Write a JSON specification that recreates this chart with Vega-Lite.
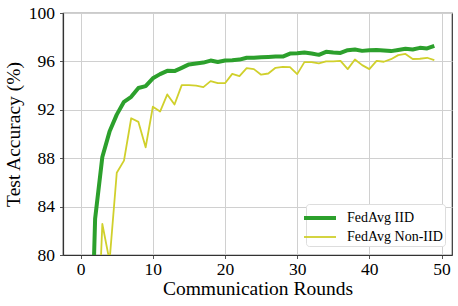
{
  "$schema": "https://vega.github.io/schema/vega-lite/v6.json",
  "autosize": "none",
  "width": 389,
  "height": 242,
  "padding": {"left": 63, "top": 13, "right": 6, "bottom": 51},
  "background": "white",
  "config": {
    "font": "Liberation Serif",
    "view": {"stroke": "#333333", "strokeWidth": 1.2},
    "axis": {"labelFont": "Liberation Serif", "titleFont": "Liberation Serif", "labelColor": "black", "titleColor": "black", "titleFontWeight": "normal", "gridColor": "#d0d0d0", "gridWidth": 1, "domainColor": "#333333", "domainWidth": 1.2, "tickColor": "#555555", "tickSize": 3.5, "labelFontSize": 17.5, "titleFontSize": 19.5}
  },
  "data": {"values": [
    {"r": 0, "v": 40, "s": "FedAvg IID"},
    {"r": 1, "v": 62, "s": "FedAvg IID"},
    {"r": 2, "v": 83.0, "s": "FedAvg IID"},
    {"r": 3, "v": 88.1, "s": "FedAvg IID"},
    {"r": 4, "v": 90.2, "s": "FedAvg IID"},
    {"r": 5, "v": 91.6, "s": "FedAvg IID"},
    {"r": 6, "v": 92.66, "s": "FedAvg IID"},
    {"r": 7, "v": 93.07, "s": "FedAvg IID"},
    {"r": 8, "v": 93.8, "s": "FedAvg IID"},
    {"r": 9, "v": 93.96, "s": "FedAvg IID"},
    {"r": 10, "v": 94.6, "s": "FedAvg IID"},
    {"r": 11, "v": 94.95, "s": "FedAvg IID"},
    {"r": 12, "v": 95.22, "s": "FedAvg IID"},
    {"r": 13, "v": 95.2, "s": "FedAvg IID"},
    {"r": 14, "v": 95.47, "s": "FedAvg IID"},
    {"r": 15, "v": 95.75, "s": "FedAvg IID"},
    {"r": 16, "v": 95.83, "s": "FedAvg IID"},
    {"r": 17, "v": 95.9, "s": "FedAvg IID"},
    {"r": 18, "v": 96.07, "s": "FedAvg IID"},
    {"r": 19, "v": 95.95, "s": "FedAvg IID"},
    {"r": 20, "v": 96.07, "s": "FedAvg IID"},
    {"r": 21, "v": 96.1, "s": "FedAvg IID"},
    {"r": 22, "v": 96.15, "s": "FedAvg IID"},
    {"r": 23, "v": 96.3, "s": "FedAvg IID"},
    {"r": 24, "v": 96.3, "s": "FedAvg IID"},
    {"r": 25, "v": 96.35, "s": "FedAvg IID"},
    {"r": 26, "v": 96.37, "s": "FedAvg IID"},
    {"r": 27, "v": 96.4, "s": "FedAvg IID"},
    {"r": 28, "v": 96.4, "s": "FedAvg IID"},
    {"r": 29, "v": 96.65, "s": "FedAvg IID"},
    {"r": 30, "v": 96.67, "s": "FedAvg IID"},
    {"r": 31, "v": 96.73, "s": "FedAvg IID"},
    {"r": 32, "v": 96.65, "s": "FedAvg IID"},
    {"r": 33, "v": 96.54, "s": "FedAvg IID"},
    {"r": 34, "v": 96.79, "s": "FedAvg IID"},
    {"r": 35, "v": 96.73, "s": "FedAvg IID"},
    {"r": 36, "v": 96.7, "s": "FedAvg IID"},
    {"r": 37, "v": 96.93, "s": "FedAvg IID"},
    {"r": 38, "v": 96.98, "s": "FedAvg IID"},
    {"r": 39, "v": 96.87, "s": "FedAvg IID"},
    {"r": 40, "v": 96.93, "s": "FedAvg IID"},
    {"r": 41, "v": 96.95, "s": "FedAvg IID"},
    {"r": 42, "v": 96.9, "s": "FedAvg IID"},
    {"r": 43, "v": 96.85, "s": "FedAvg IID"},
    {"r": 44, "v": 96.95, "s": "FedAvg IID"},
    {"r": 45, "v": 97.04, "s": "FedAvg IID"},
    {"r": 46, "v": 96.98, "s": "FedAvg IID"},
    {"r": 47, "v": 97.12, "s": "FedAvg IID"},
    {"r": 48, "v": 97.07, "s": "FedAvg IID"},
    {"r": 49, "v": 97.28, "s": "FedAvg IID"},
    {"r": 0, "v": 30, "s": "FedAvg Non-IID"},
    {"r": 1, "v": 50, "s": "FedAvg Non-IID"},
    {"r": 2, "v": 68, "s": "FedAvg Non-IID"},
    {"r": 3, "v": 82.56, "s": "FedAvg Non-IID"},
    {"r": 4, "v": 79.5, "s": "FedAvg Non-IID"},
    {"r": 5, "v": 86.8, "s": "FedAvg Non-IID"},
    {"r": 6, "v": 87.8, "s": "FedAvg Non-IID"},
    {"r": 7, "v": 91.3, "s": "FedAvg Non-IID"},
    {"r": 8, "v": 91.0, "s": "FedAvg Non-IID"},
    {"r": 9, "v": 88.9, "s": "FedAvg Non-IID"},
    {"r": 10, "v": 92.25, "s": "FedAvg Non-IID"},
    {"r": 11, "v": 91.85, "s": "FedAvg Non-IID"},
    {"r": 12, "v": 93.27, "s": "FedAvg Non-IID"},
    {"r": 13, "v": 92.44, "s": "FedAvg Non-IID"},
    {"r": 14, "v": 94.04, "s": "FedAvg Non-IID"},
    {"r": 15, "v": 94.04, "s": "FedAvg Non-IID"},
    {"r": 16, "v": 94.0, "s": "FedAvg Non-IID"},
    {"r": 17, "v": 93.87, "s": "FedAvg Non-IID"},
    {"r": 18, "v": 94.37, "s": "FedAvg Non-IID"},
    {"r": 19, "v": 94.2, "s": "FedAvg Non-IID"},
    {"r": 20, "v": 94.2, "s": "FedAvg Non-IID"},
    {"r": 21, "v": 94.97, "s": "FedAvg Non-IID"},
    {"r": 22, "v": 94.78, "s": "FedAvg Non-IID"},
    {"r": 23, "v": 95.44, "s": "FedAvg Non-IID"},
    {"r": 24, "v": 95.36, "s": "FedAvg Non-IID"},
    {"r": 25, "v": 94.9, "s": "FedAvg Non-IID"},
    {"r": 26, "v": 95.0, "s": "FedAvg Non-IID"},
    {"r": 27, "v": 95.47, "s": "FedAvg Non-IID"},
    {"r": 28, "v": 95.55, "s": "FedAvg Non-IID"},
    {"r": 29, "v": 95.52, "s": "FedAvg Non-IID"},
    {"r": 30, "v": 94.95, "s": "FedAvg Non-IID"},
    {"r": 31, "v": 95.94, "s": "FedAvg Non-IID"},
    {"r": 32, "v": 95.94, "s": "FedAvg Non-IID"},
    {"r": 33, "v": 95.83, "s": "FedAvg Non-IID"},
    {"r": 34, "v": 96.0, "s": "FedAvg Non-IID"},
    {"r": 35, "v": 96.0, "s": "FedAvg Non-IID"},
    {"r": 36, "v": 96.05, "s": "FedAvg Non-IID"},
    {"r": 37, "v": 95.36, "s": "FedAvg Non-IID"},
    {"r": 38, "v": 96.16, "s": "FedAvg Non-IID"},
    {"r": 39, "v": 95.69, "s": "FedAvg Non-IID"},
    {"r": 40, "v": 95.36, "s": "FedAvg Non-IID"},
    {"r": 41, "v": 96.05, "s": "FedAvg Non-IID"},
    {"r": 42, "v": 95.97, "s": "FedAvg Non-IID"},
    {"r": 43, "v": 96.18, "s": "FedAvg Non-IID"},
    {"r": 44, "v": 96.52, "s": "FedAvg Non-IID"},
    {"r": 45, "v": 96.62, "s": "FedAvg Non-IID"},
    {"r": 46, "v": 96.2, "s": "FedAvg Non-IID"},
    {"r": 47, "v": 96.22, "s": "FedAvg Non-IID"},
    {"r": 48, "v": 96.3, "s": "FedAvg Non-IID"},
    {"r": 49, "v": 96.1, "s": "FedAvg Non-IID"}
  ]},
  "mark": {"type": "line", "clip": true, "strokeJoin": "round", "strokeCap": "butt"},
  "encoding": {
    "x": {"field": "r", "type": "quantitative", "scale": {"domain": [-2.45, 51.45], "nice": false, "zero": false}, "axis": {"values": [0, 10, 20, 30, 40, 50], "title": "Communication Rounds", "titlePadding": 1, "labelPadding": 2}},
    "y": {"field": "v", "type": "quantitative", "scale": {"domain": [80, 100], "nice": false, "zero": false}, "axis": {"values": [80, 84, 88, 92, 96, 100], "title": "Test Accuracy (%)", "titlePadding": 5, "labelPadding": 5}},
    "color": {"field": "s", "type": "nominal", "title": null, "scale": {"domain": ["FedAvg IID", "FedAvg Non-IID"], "range": ["#2ca02c", "#d0d02c"]},
      "legend": {"orient": "none", "legendX": 243, "legendY": 191, "symbolType": "M-1.6,0H1.6", "symbolSize": 400, "labelFontSize": 14, "labelFont": "Liberation Serif", "labelColor": "black", "fillColor": "white", "strokeColor": "#dddddd", "padding": 2, "cornerRadius": 3, "rowPadding": 0, "labelOffset": 15}},
    "strokeWidth": {"field": "s", "type": "nominal", "title": null, "scale": {"domain": ["FedAvg IID", "FedAvg Non-IID"], "range": [4, 1.8]},
      "legend": {"orient": "none", "legendX": 243, "legendY": 191, "symbolType": "M-1.6,0H1.6", "symbolSize": 400, "labelFontSize": 14, "labelFont": "Liberation Serif", "labelColor": "black", "fillColor": "white", "strokeColor": "#dddddd", "padding": 2, "cornerRadius": 3, "rowPadding": 0, "labelOffset": 15}}
  }
}
